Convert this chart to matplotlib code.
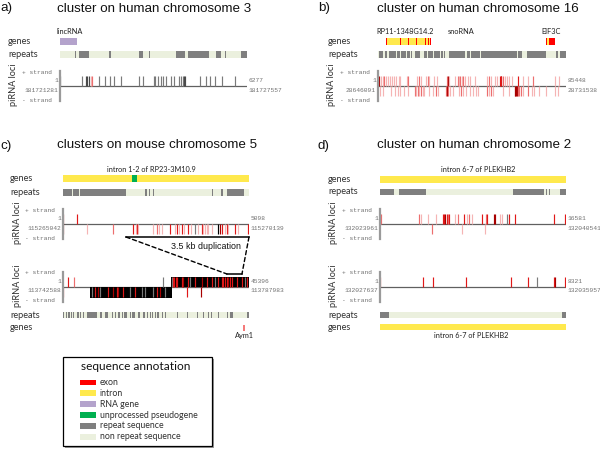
import matplotlib
matplotlib.use('Agg')
import matplotlib.pyplot as plt
from matplotlib.patches import Rectangle, ConnectionPatch

# ---------------- colours ----------------
EXON = '#ff0000'
INTRON = '#ffe94d'
RNAGENE = '#b4a3cc'
PSEUDO = '#00b050'
REPEAT = '#7f7f7f'
NONREP = '#ebf0de'
SHADES = {1: '#f5b4b4', 2: '#ec6e6e', 3: '#e01818', 4: '#a80000', 5: '#7a7a7a', 6: '#000000', 7: '#4a4a4a'}

# ---------------- data: panel a (human chr3) ----------------
a_len = 6277
a_coords = ('181721281', '181727557')
a_plus_pos = [10, 739, 873, 923, 974, 1031, 1074, 1309, 1501, 1689, 1813, 2048, 2642, 2776, 3146, 3199,
              3290, 3381, 3468, 3568, 3716, 3827, 4005, 4062, 4119, 4153, 4196, 4700, 4891, 5046, 5213,
              5448, 5885]
a_plus_shade = [7, 5, 7, 7, 7, 1, 2, 5, 5, 5, 5, 5, 5, 5, 5, 5,
                5, 5, 5, 5, 5, 5, 5, 5, 5, 7, 7, 5, 5, 5, 5,
                5, 5]
a_repeats = [(520, 20), (638, 336), (1645, 67), (2652, 134), (2988, 33), (3894, 302), (4297, 705),
             (5237, 168), (5539, 33), (6076, 201)]
a_genes = [(0, 571, RNAGENE)]

# ---------------- data: panel b (human chr16) ----------------
b_len = 85448
b_coords = ('28646091', '28731538')
b_plus_pos = [606, 1515, 2121, 2879, 3636, 4697, 5454, 6212, 7424, 8181, 9393, 10151, 13029, 13787,
              17726, 18483, 19544, 21816, 22574, 23331, 25604, 26664, 31209, 31815, 32421, 34997,
              36209, 36966, 37421, 38178, 38784, 39693, 40905, 41663, 43935, 49692, 50601, 51359,
              53025, 53934, 55450, 55752, 56050, 56661, 57570, 58479, 59691, 60903, 63782, 65751,
              68024, 70296, 80598, 82113]
b_plus_shade = [4, 1, 1, 2, 1, 1, 1, 1, 1, 1, 1, 1, 1, 2,
                1, 2, 1, 1, 2, 1, 1, 1, 2, 4, 1, 1,
                2, 1, 2, 1, 2, 1, 1, 1, 1, 1, 2, 1,
                1, 1, 3, 4, 3, 2, 1, 1, 1, 1, 3, 1,
                1, 2, 1, 1]
b_minus_pos = [909, 2121, 5909, 7727, 9090, 10151, 11969, 13484, 16817, 17271, 18029, 18786, 19544,
               20301, 21059, 23331, 25149, 26361, 27119, 31000, 31361, 31700, 32724, 34239, 36966,
               37724, 38784, 39996, 41814, 43026, 44541, 45299, 49692, 50601, 51359, 52116, 56661,
               59388, 62100, 62418, 62800, 63327, 63700, 64236, 65145, 66054, 68175, 69993, 71054,
               73024, 76357, 80598, 81658]
b_minus_shade = [1, 1, 1, 1, 1, 1, 1, 1, 2, 1, 2, 1, 2,
                 1, 1, 1, 1, 2, 1, 2, 4, 2, 1, 1, 1,
                 2, 1, 1, 1, 1, 1, 1, 2, 1, 2, 1, 1,
                 1, 2, 4, 4, 4, 2, 2, 2, 1, 2, 1, 1,
                 1, 1, 1, 1]
b_repeats = [(303, 2121), (3030, 1212), (4848, 1364), (6515, 1666), (8484, 1515), (10302, 2424),
             (13029, 1515), (14847, 757), (16968, 2121), (20907, 1212), (22725, 2121), (25301, 2878),
             (28482, 909), (30149, 454), (32118, 7423), (40602, 1212), (42420, 3939), (46965, 16059),
             (63782, 1515), (67569, 8636), (80901, 1061), (82719, 2729)]
b_genes = [(3636, 20301, INTRON), (3636, 454, EXON), (9848, 454, EXON), (13484, 454, EXON),
           (17271, 606, EXON), (21362, 454, EXON), (22574, 454, EXON), (23483, 454, EXON),
           (37500, 150, RNAGENE),
           (76205, 606, EXON), (76811, 1060, INTRON), (77871, 2576, EXON)]

# ---------------- data: panel c (mouse chr5) ----------------
c1_len = 5098
c1_coords = ('115265042', '115270139')
c1_plus_pos = [9, 393]
c1_plus_shade = [4, 3]
c1_minus_pos = [9, 667, 1380, 1929, 2002, 2038, 2066, 2477, 2568, 2632, 2705, 2934, 3071, 3117, 3181,
                3254, 3327, 3418, 3510, 3620, 3711, 3802, 3848, 3894, 3939, 3985, 4076, 4259, 4305,
                4351, 4442, 4488, 4533, 4716, 4808, 5082]
c1_minus_shade = [4, 1, 2, 3, 1, 3, 1, 1, 2, 1, 1, 3, 1, 3, 1,
                  3, 1, 3, 1, 5, 1, 3, 1, 1, 1, 1, 1, 6, 4,
                  3, 1, 3, 1, 3, 1, 3]
c1_repeats = [(0, 247), (283, 155), (466, 1260), (2260, 30), (2350, 30), (2466, 30), (4080, 30),
              (4338, 40), (4494, 474)]
c1_genes = [(0, 5098, INTRON), (1891, 137, PSEUDO)]
dup_upper = (1726, 5098)

c2_len = 45396
c2_coords = ('113742588', '113787983')
c2_plus_block = (26279, 45396)
c2_minus_block = (6588, 26523)
c2_plus_pos = [1301, 2766, 24522, 26504, 26910, 27154, 27479, 27723, 28943, 29349, 30569, 30975,
               32195, 33821, 35040, 36260, 37073, 37886, 38699, 39105, 39512, 39918, 40325, 40731,
               41138, 42357, 43577, 44390, 44797]
c2_plus_shade = [3, 2, 5, 5, 3, 3, 3, 3, 3, 4, 3, 5,
                 3, 4, 3, 3, 5, 3, 3, 3, 3, 3, 4, 3,
                 3, 3, 3, 5, 3]
c2_minus_pos = [80, 6992, 7805, 8455, 9024, 10894, 12276, 13089, 13496, 14715, 16341, 17561, 19349,
                20000, 22032, 22845, 23658, 24878, 30173, 33587]
c2_minus_shade = [3, 5, 3, 4, 5, 3, 4, 3, 4, 3, 5, 3, 5,
                  5, 5, 3, 4, 5, 3, 4]
c2_repeats = [(81, 250), (732, 250), (1138, 250), (1545, 250), (1951, 250), (2520, 250), (3333, 250),
              (3740, 250), (4146, 250), (4797, 300), (5935, 2276), (9024, 488), (10244, 813),
              (11870, 300), (12683, 300), (13496, 300), (14309, 300), (14878, 650), (16341, 300),
              (16829, 732), (18374, 300), (19593, 300), (20406, 300), (21219, 300), (21626, 300),
              (22439, 300), (22845, 300), (23252, 300), (24065, 300), (24878, 300), (27723, 300),
              (30162, 300), (32601, 300), (34227, 300), (35447, 300), (36016, 300), (37886, 300),
              (39918, 300), (40731, 813), (44797, 599)]
c2_genes = [(44000, 410, '#f47a7a')]
dup_lower = (40016, 43676)

# ---------------- data: panel d (human chr2) ----------------
d1_len = 16581
d1_coords = ('132023961', '132040541')
d1_plus_pos = [0, 119, 3505, 3653, 4307, 4990, 5584, 5702, 5821, 5940, 6059, 6178, 6712, 6980, 7484,
               7722, 7960, 8227, 9059, 9415, 9563, 10157, 10247, 10692, 10841, 11345, 11464, 11999,
               15503, 16484]
d1_plus_shade = [3, 2, 2, 1, 1, 1, 3, 3, 4, 3, 2, 3, 1, 2, 3,
                 1, 2, 1, 3, 2, 3, 4, 4, 1, 1, 5, 3, 3,
                 3, 3]
d1_minus_pos = [4604, 7336, 9356]
d1_minus_shade = [2, 1, 1]
d1_repeats = [(0, 1247), (1723, 2346), (11880, 2732), (14791, 100), (15088, 100), (16038, 543)]
d1_genes = [(0, 16581, INTRON)]

d2_len = 8321
d2_coords = ('132027637', '132035957')
d2_plus_pos = [0, 1907, 2384, 3844, 5871, 6631, 7018, 7793, 7837, 8270]
d2_plus_shade = [3, 3, 3, 3, 3, 3, 5, 3, 4, 3]
d2_repeats = [(0, 387), (8120, 201)]
d2_genes = [(0, 8321, INTRON)]

legend_labels = ['exon', 'intron', 'RNA gene', 'unprocessed pseudogene', 'repeat sequence',
                 'non repeat sequence']
legend_colors = [EXON, INTRON, RNAGENE, PSEUDO, REPEAT, NONREP]

# ---------------- helpers ----------------
W, H = 600, 449
fig = plt.figure(figsize=(6, 4.49), dpi=100)
fig.patch.set_facecolor('white')

TITLE_FONT = ['Liberation Sans', 'DejaVu Sans']
LABEL_FONT = ['Lato', 'DejaVu Sans']
MONO_FONT = ['Liberation Mono', 'DejaVu Sans Mono']


def frect(x0, y0, x1, y1):
    return [x0 / W, 1 - y1 / H, (x1 - x0) / W, (y1 - y0) / H]


def txt(x, y, s, **kw):
    return fig.text(x / W, 1 - y / H, s, **kw)


def make_ax(x0, x1, y0, y1, L, ylim):
    ax = fig.add_axes(frect(x0, y0, x1, y1))
    ax.set_xlim(0, L)
    ax.set_ylim(*ylim)
    ax.axis('off')
    return ax


def annot_row(x0, x1, y0, y1, L, segs, background=None):
    ax = make_ax(x0, x1, y0, y1, L, (0, 1))
    if background is not None:
        ax.broken_barh([(0, L)], (0, 1), facecolors=background, edgecolor='none')
    if segs:
        ax.broken_barh([(s[0], s[1]) for s in segs], (0, 1),
                       facecolors=[s[2] if len(s) > 2 else REPEAT for s in segs], edgecolor='none')
    return ax


def pirna_track(x0, x1, yc, L, coords, plus=None, minus=None, blocks=()):
    ax = make_ax(x0, x1, yc - 15, yc + 15, L, (-1.5, 1.5))
    for (b0, b1, lo, hi) in blocks:
        ax.broken_barh([(b0, b1 - b0)], (lo, hi - lo), facecolors='black', edgecolor='none', zorder=1)
    ax.plot([0, L], [0, 0], color='#606060', lw=0.9, zorder=0.5)
    if plus:
        pos, sh = plus
        ax.vlines(pos, 0, 1, colors=[SHADES[s] for s in sh], lw=0.85, zorder=2)
    if minus:
        pos, sh = minus
        ax.vlines(pos, -1, 0, colors=[SHADES[s] for s in sh], lw=0.85, zorder=2)
    ax.plot([0, 0], [-1.5, 1.5], color='#9a9a9a', lw=1.6, clip_on=False, zorder=3)
    # labels
    mono = dict(family=MONO_FONT, fontsize=4.5, color='#707070')
    txt(x0 - 8, yc - 14, '+ strand', ha='right', va='center', **mono)
    txt(x0 - 8, yc + 14, '- strand', ha='right', va='center', **mono)
    txt(x0 - 2, yc - 5, '1', ha='right', va='center', **mono)
    txt(x0 - 2, yc + 4, coords[0], ha='right', va='center', **mono)
    txt(x1 + 1.5, yc - 5, f'{L}', ha='left', va='center', **mono)
    txt(x1 + 1.5, yc + 4, coords[1], ha='left', va='center', **mono)
    txt(x0 - 46, yc - 1, 'piRNA loci', rotation=90, ha='center', va='center',
        family=LABEL_FONT, fontsize=6.6, color='#303030')
    return ax


def row_label(x, y, s):
    txt(x, y, s, ha='left', va='center', family=LABEL_FONT, fontsize=6.6, color='#303030')


def small_label(x, y, s):
    txt(x, y, s, ha='center', va='center', family=LABEL_FONT, fontsize=5.3, color='#202020')


def title(xl, xt, y, letter, s):
    txt(xl, y, letter, ha='left', va='baseline', family=TITLE_FONT, fontsize=9.6, color='#111111')
    txt(xt, y, s, ha='left', va='baseline', family=TITLE_FONT, fontsize=9.6, color='#111111')


# ---------------- panel a ----------------
title(0, 57, 11.5, 'a)', 'cluster on human chromosome 3')
small_label(70, 32, 'lincRNA')
row_label(8, 41.5, 'genes')
annot_row(60, 247, 38, 45, a_len, a_genes)
row_label(8, 54.5, 'repeats')
annot_row(60, 247, 51, 58, a_len, a_repeats, background=NONREP)
pirna_track(60, 247, 86, a_len, a_coords, plus=(a_plus_pos, a_plus_shade))

# ---------------- panel b ----------------
title(318, 377, 11.5, 'b)', 'cluster on human chromosome 16')
small_label(405, 32, 'RP11-1348G14.2')
small_label(461, 32, 'snoRNA')
small_label(551, 32, 'EIF3C')
row_label(328, 41.5, 'genes')
annot_row(378, 566, 38, 45, b_len, b_genes)
row_label(328, 54.5, 'repeats')
annot_row(378, 566, 51, 58, b_len, b_repeats, background=NONREP)
pirna_track(378, 566, 86, b_len, b_coords, plus=(b_plus_pos, b_plus_shade),
            minus=(b_minus_pos, b_minus_shade))

# ---------------- panel c ----------------
title(0, 57, 148.5, 'c)', 'clusters on mouse chromosome 5')
small_label(151, 169, 'intron 1-2 of RP23-3M10.9')
row_label(10, 178.5, 'genes')
annot_row(63, 249, 175, 182, c1_len, c1_genes)
row_label(10, 192.5, 'repeats')
annot_row(63, 249, 189, 196, c1_len, c1_repeats, background=NONREP)
ax_c1 = pirna_track(63, 249, 224, c1_len, c1_coords, plus=(c1_plus_pos, c1_plus_shade),
                    minus=(c1_minus_pos, c1_minus_shade))
ax_c2 = pirna_track(63, 249, 286.5, c2_len, c2_coords, plus=(c2_plus_pos, c2_plus_shade),
                    minus=(c2_minus_pos, c2_minus_shade),
                    blocks=[(c2_plus_block[0], c2_plus_block[1], 0, 1),
                            (c2_minus_block[0], c2_minus_block[1], -1.1, 0)])
row_label(10, 315, 'repeats')
annot_row(63, 249, 312, 318, c2_len, c2_repeats, background=NONREP)
row_label(10, 328, 'genes')
annot_row(63, 249, 325, 331, c2_len, c2_genes)
small_label(244, 335.5, 'Aym1')

# duplication bracket
ax_c1.plot(dup_upper, [-1.3, -1.3], color='black', lw=1.1, clip_on=False, zorder=4)
ax_c2.plot(dup_lower, [1.25, 1.25], color='black', lw=1.1, clip_on=False, zorder=4)
for xa, xb in zip(dup_upper, dup_lower):
    con = ConnectionPatch(xyA=(xa, -1.3), coordsA=ax_c1.transData,
                          xyB=(xb, 1.25), coordsB=ax_c2.transData,
                          color='black', lw=1.0, ls=(0, (3, 2)))
    fig.add_artist(con)
txt(205.5, 246, '3.5 kb duplication', ha='center', va='center', family=TITLE_FONT,
    fontsize=6.4, color='#111111')

# ---------------- panel d ----------------
title(318, 377, 148.5, 'd)', 'cluster on human chromosome 2')
small_label(478, 169, 'intron 6-7 of PLEKHB2')
row_label(328, 179.5, 'genes')
annot_row(380, 566, 176, 183, d1_len, d1_genes)
row_label(328, 192, 'repeats')
annot_row(380, 566, 189, 195, d1_len, d1_repeats, background=NONREP)
pirna_track(380, 566, 224, d1_len, d1_coords, plus=(d1_plus_pos, d1_plus_shade),
            minus=(d1_minus_pos, d1_minus_shade))
pirna_track(380, 566, 286.5, d2_len, d2_coords, plus=(d2_plus_pos, d2_plus_shade))
row_label(328, 315, 'repeats')
annot_row(380, 566, 312, 318, d2_len, d2_repeats, background=NONREP)
row_label(328, 327.5, 'genes')
annot_row(380, 566, 324, 330, d2_len, d2_genes)
small_label(471, 336, 'intron 6-7 of PLEKHB2')

# ---------------- legend ----------------
shadow = Rectangle(((63 + 2) / W, 1 - (446 + 2) / H), 149 / W, 89 / H, transform=fig.transFigure,
                   facecolor='#9a9a9a', edgecolor='none', zorder=0)
fig.add_artist(shadow)
box = Rectangle((63 / W, 1 - 446 / H), 149 / W, 89 / H, transform=fig.transFigure,
                facecolor='white', edgecolor='black', lw=0.9, zorder=1)
fig.add_artist(box)
txt(136, 367, 'sequence annotation', ha='center', va='center', family=LABEL_FONT,
    fontsize=8.6, color='#111111', zorder=2)
for i, (lab, col) in enumerate(zip(legend_labels, legend_colors)):
    yc = 382.3 + i * 10.9
    sw = Rectangle((80 / W, 1 - (yc + 2.8) / H), 16 / W, 5.6 / H, transform=fig.transFigure,
                   facecolor=col, edgecolor='none', zorder=2)
    fig.add_artist(sw)
    txt(100, yc, lab, ha='left', va='center', family=LABEL_FONT, fontsize=6.3,
        color='#303030', zorder=2)

fig.savefig('out.png', dpi=100)
